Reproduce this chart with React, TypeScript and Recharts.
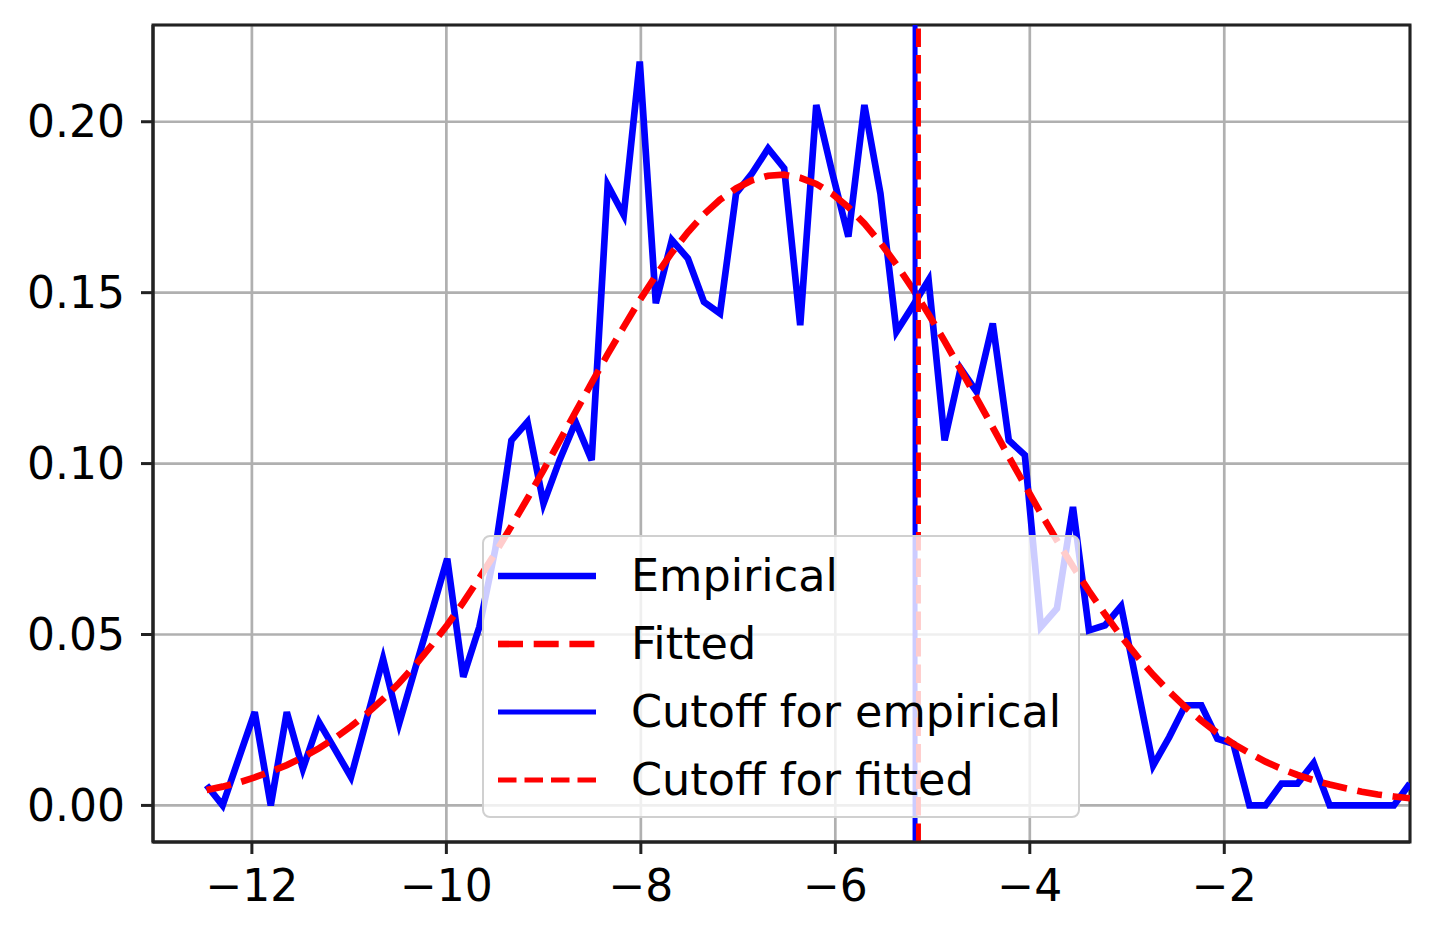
import { CartesianGrid, Line, LineChart, ReferenceArea, ReferenceLine, XAxis, YAxis } from "recharts";

const xValues = [
  -12.466, -12.301, -12.136, -11.971, -11.806, -11.641, -11.476, -11.311, -11.146, -10.981,
  -10.816, -10.651, -10.486, -10.321, -10.156, -9.991, -9.826, -9.661, -9.496, -9.331,
  -9.166, -9.001, -8.836, -8.671, -8.506, -8.341, -8.176, -8.011, -7.846, -7.681,
  -7.516, -7.351, -7.186, -7.021, -6.856, -6.691, -6.526, -6.361, -6.196, -6.031,
  -5.866, -5.701, -5.536, -5.371, -5.206, -5.041, -4.876, -4.711, -4.546, -4.381,
  -4.216, -4.051, -3.886, -3.721, -3.556, -3.391, -3.226, -3.061, -2.896, -2.731,
  -2.566, -2.401, -2.236, -2.071, -1.906, -1.741, -1.576, -1.411, -1.246, -1.081,
  -0.916, -0.751, -0.586, -0.421, -0.256, -0.091,
];

const empirical = [
  0.0059, 0.0, 0.0137, 0.0273, 0.0, 0.0273, 0.0107, 0.0244, 0.0164, 0.0083,
  0.0256, 0.0429, 0.0239, 0.04, 0.056, 0.0722, 0.0376, 0.0522, 0.075, 0.1068,
  0.1122, 0.0883, 0.101, 0.1122, 0.101, 0.1815, 0.1727, 0.2176, 0.1469, 0.1654,
  0.16, 0.1473, 0.1439, 0.179, 0.1849, 0.1922, 0.1864, 0.1405, 0.2049, 0.185,
  0.1664, 0.2049, 0.179, 0.1386, 0.146, 0.1537, 0.1068, 0.1278, 0.121, 0.141,
  0.1068, 0.1025, 0.0522, 0.0576, 0.0873, 0.0512, 0.0527, 0.0583, 0.035, 0.0117,
  0.02, 0.0293, 0.0293, 0.0195, 0.018, 0.0, 0.0, 0.0064, 0.0064, 0.0124,
  0.0, 0.0, 0.0, 0.0, 0.0, 0.0064,
];

const fitted = [
  0.0045, 0.0055, 0.0067, 0.0082, 0.0099, 0.0118, 0.0141, 0.0167, 0.0197, 0.0231,
  0.0269, 0.0311, 0.0358, 0.041, 0.0467, 0.0528, 0.0594, 0.0665, 0.0739, 0.0817,
  0.0898, 0.0981, 0.1066, 0.1151, 0.1236, 0.132, 0.14, 0.1478, 0.155, 0.1617,
  0.1677, 0.1729, 0.1772, 0.1805, 0.1829, 0.1842, 0.1845, 0.1836, 0.1818, 0.1789,
  0.175, 0.1702, 0.1646, 0.1582, 0.1512, 0.1437, 0.1358, 0.1275, 0.1191, 0.1106,
  0.102, 0.0937, 0.0854, 0.0775, 0.0699, 0.0627, 0.0559, 0.0495, 0.0436, 0.0382,
  0.0333, 0.0288, 0.0248, 0.0212, 0.018, 0.0153, 0.0128, 0.0107, 0.0089, 0.0074,
  0.0061, 0.005, 0.004, 0.0032, 0.0026, 0.0021,
];

const xTicks = [-12, -10, -8, -6, -4, -2];
const yTicks = [0, 0.05, 0.1, 0.15, 0.2];
const xDomain = [-13.017, -0.09];
const yDomain = [-0.0107, 0.2283];

const cutoffEmpirical = -5.18;
const cutoffFitted = -5.145;

const legendLabels = ["Empirical", "Fitted", "Cutoff for empirical", "Cutoff for fitted"];

const data = xValues.map((x, i) => ({ x, empirical: empirical[i], fitted: fitted[i] }));

const FONT = '"DejaVu Sans", sans-serif';
const tickStyle = { fill: "#000", fontSize: 44, fontFamily: FONT };
const fmtX = (v: number) => String(v).replace("-", "\u2212");
const spine = { stroke: "#222", strokeWidth: 3 };

const legendStyles = [
  { color: "#0000ff", width: 6.7, dash: undefined },
  { color: "#ff0000", width: 6.7, dash: "25 10.7" },
  { color: "#0000ff", width: 5, dash: undefined },
  { color: "#ff0000", width: 5, dash: "18.5 8" },
];

function ChartLegend() {
  const rows = [39, 107, 175, 243];
  return (
    <div
      style={{
        position: "absolute",
        left: 482,
        top: 535,
        width: 598,
        height: 283,
        boxSizing: "border-box",
        background: "rgba(255,255,255,0.8)",
        border: "2.5px solid #d0d0d0",
        borderRadius: 8,
        fontFamily: FONT,
        fontSize: 44.5,
        color: "#000",
      }}
    >
      {legendLabels.map((label, i) => (
        <div
          key={label}
          style={{ position: "absolute", left: 0, top: rows[i] - 28, height: 56, width: "100%" }}
        >
          <svg width={102} height={56} style={{ position: "absolute", left: 12, top: 0 }}>
            <line
              x1={2}
              x2={100}
              y1={28}
              y2={28}
              stroke={legendStyles[i].color}
              strokeWidth={legendStyles[i].width}
              strokeDasharray={legendStyles[i].dash}
            />
          </svg>
          <span
            style={{ position: "absolute", left: 147, top: 0, lineHeight: "56px", whiteSpace: "nowrap" }}
          >
            {label}
          </span>
        </div>
      ))}
    </div>
  );
}

export default function App() {
  return (
    <div style={{ position: "absolute", left: 0, top: 0, width: 1435, height: 940, background: "#fff" }}>
      <LineChart width={1435} height={940} data={data} margin={{ top: 25, right: 25, bottom: 0, left: 0 }}>
        <CartesianGrid stroke="#b0b0b0" strokeWidth={2.7} />
        <XAxis
          dataKey="x"
          type="number"
          domain={xDomain}
          ticks={xTicks}
          allowDataOverflow
          height={98}
          tickSize={12}
          tickMargin={16}
          tick={tickStyle}
          tickFormatter={fmtX}
          axisLine={spine}
          tickLine={spine}
        />
        <YAxis
          type="number"
          domain={yDomain}
          ticks={yTicks}
          allowDataOverflow
          width={153}
          tickSize={12}
          tickMargin={16}
          tick={tickStyle}
          tickFormatter={(v: number) => v.toFixed(2)}
          axisLine={spine}
          tickLine={spine}
        />
        <Line
          dataKey="empirical"
          type="linear"
          stroke="#0000ff"
          strokeWidth={6.7}
          dot={false}
          activeDot={false}
          isAnimationActive={false}
        />
        <Line
          dataKey="fitted"
          type="linear"
          stroke="#ff0000"
          strokeWidth={6.7}
          strokeDasharray="25 10.7"
          dot={false}
          activeDot={false}
          isAnimationActive={false}
        />
        <ReferenceLine x={cutoffEmpirical} stroke="#0000ff" strokeWidth={5} />
        <ReferenceLine x={cutoffFitted} stroke="#ff0000" strokeWidth={5} strokeDasharray="18.5 8" />
        <ReferenceArea
          x1={xDomain[0]}
          x2={xDomain[1]}
          y1={yDomain[0]}
          y2={yDomain[1]}
          fill="none"
          fillOpacity={0}
          stroke="#222"
          strokeWidth={3}
          ifOverflow="visible"
        />
      </LineChart>
      <ChartLegend />
    </div>
  );
}
